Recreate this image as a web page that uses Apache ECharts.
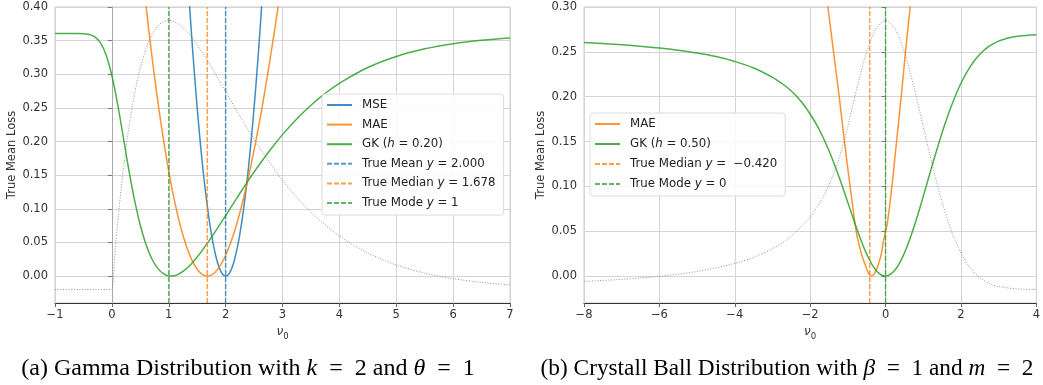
<!DOCTYPE html>
<html>
<head>
<meta charset="utf-8">
<script src="https://cdn.jsdelivr.net/npm/echarts@6/dist/echarts.min.js"></script>
<style>
html,body{margin:0;padding:0;background:#fff;}
#chart{width:1043px;height:385px;}
</style>
</head>
<body>
<div id="chart"></div>
<script>
// ---------- Left panel: Gamma distribution (k=2, theta=1) ----------
const gammaMseX = [1.35,1.4,1.45,1.5,1.55,1.6,1.65,1.7,1.75,1.8,1.85,1.9,1.95,2.0,2.05,2.1,2.15,2.2,2.25,2.3,2.35,2.4,2.45,2.5,2.55,2.6,2.65];
const gammaMseY = [0.4225,0.36,0.3025,0.25,0.2025,0.16,0.1225,0.09,0.0625,0.04,0.0225,0.01,0.0025,0,0.0025,0.01,0.0225,0.04,0.0625,0.09,0.1225,0.16,0.2025,0.25,0.3025,0.36,0.4225];
const gammaMaeX = [0.5,0.6,0.7,0.8,0.9,1.0,1.1,1.2,1.3,1.4,1.5,1.6,1.7,1.8,1.9,2.0,2.1,2.2,2.3,2.4,2.5,2.6,2.7,2.8,2.9,3.0];
const gammaMaeY = [0.4809,0.4021,0.3298,0.2645,0.2064,0.1556,0.1121,0.0759,0.0470,0.0251,0.0102,0.0019,0.0002,0.0046,0.0149,0.0310,0.0524,0.0790,0.1105,0.1466,0.1871,0.2316,0.2800,0.3321,0.3875,0.4462];
const gammaGkX = [-1,-0.8,-0.6,-0.4,-0.3,-0.2,-0.1,0,0.1,0.2,0.3,0.4,0.5,0.6,0.7,0.8,0.9,1.0,1.1,1.2,1.3,1.4,1.5,1.6,1.8,2.0,2.2,2.4,2.6,2.8,3.0,3.25,3.5,3.75,4.0,4.5,5.0,5.5,6.0,6.5,7.0];
const gammaGkY = [0.3606,0.3606,0.3605,0.3591,0.3556,0.3466,0.3284,0.2980,0.2560,0.2069,0.1572,0.1125,0.0755,0.0470,0.0262,0.0122,0.0039,0.0003,0.0006,0.0042,0.0103,0.0185,0.0283,0.0393,0.0638,0.0900,0.1164,0.1422,0.1666,0.1894,0.2103,0.2336,0.2540,0.2716,0.2866,0.3101,0.3265,0.3378,0.3455,0.3507,0.3541];
const gammaPdfX = [-1,-0.5,-0.05,0,0.05,0.1,0.2,0.3,0.4,0.5,0.6,0.7,0.8,0.9,1.0,1.2,1.4,1.6,1.8,2.0,2.25,2.5,2.75,3.0,3.5,4.0,4.5,5.0,5.5,6.0,6.5,7.0];
const gammaPdfY = [-0.02,-0.02,-0.02,-0.02,0.0317,0.0784,0.1580,0.2216,0.2715,0.3097,0.3380,0.3580,0.3708,0.3779,0.3800,0.3730,0.3554,0.3312,0.3035,0.2743,0.2379,0.2031,0.1721,0.1424,0.0949,0.0597,0.0344,0.0166,0.0044,-0.0038,-0.0094,-0.0131];
const gammaRefX = [2.0, 1.678, 1.0];            // mean, median, mode
const gammaXRange = [-1, 7];
const gammaYRange = [-0.04, 0.40];
const gammaYTicks = [0, 0.05, 0.10, 0.15, 0.20, 0.25, 0.30, 0.35, 0.40];
const gammaNames = ['MSE', 'MAE', 'GK (h = 0.20)', 'True Mean y = 2.000', 'True Median y = 1.678', 'True Mode y = 1'];
const gammaLabels = ['MSE', 'MAE', 'GK ({i|h} = 0.20)', 'True Mean {i|y} = 2.000', 'True Median {i|y} = 1.678', 'True Mode {i|y} = 1'];

// ---------- Right panel: Crystal Ball distribution (beta=1, m=2) ----------
const cbMaeX = [-1.68,-1.53,-1.38,-1.23,-1.09,-0.94,-0.78,-0.72,-0.63,-0.536,-0.45,-0.38,-0.30,-0.20,-0.12,-0.06,0.0,0.053,0.168,0.292,0.415,0.529,0.653,0.777];
const cbMaeY = [0.35,0.30,0.25,0.20,0.15,0.10,0.05,0.038,0.0233,0.0122,0.003,0.0,0.0025,0.0122,0.0233,0.038,0.05,0.0606,0.10,0.15,0.20,0.25,0.30,0.35];
const cbGkX = [-8,-7.5,-7,-6.5,-6,-5.5,-5,-4.5,-4,-3.5,-3,-2.75,-2.5,-2.25,-2,-1.75,-1.5,-1.25,-1,-0.75,-0.5,-0.25,0,0.25,0.5,0.75,1,1.25,1.5,1.75,2,2.25,2.5,2.75,3,3.25,3.5,4];
const cbGkY = [0.2603,0.2592,0.2579,0.2562,0.2543,0.2518,0.2487,0.2447,0.2393,0.2320,0.2216,0.2147,0.2064,0.1953,0.1807,0.1626,0.1398,0.1125,0.0819,0.0511,0.0245,0.0063,0.0000,0.0068,0.0258,0.0544,0.0889,0.1253,0.1599,0.1903,0.2150,0.2339,0.2473,0.2563,0.2620,0.2655,0.2674,0.2690];
const cbPdfX = [-8,-7,-6,-5,-4,-3.5,-3,-2.5,-2,-1.75,-1.5,-1.25,-1,-0.75,-0.5,-0.25,0,0.25,0.5,0.75,1,1.25,1.5,1.75,2,2.25,2.5,2.75,3,3.5,4];
const cbPdfY = [-0.0060,-0.0036,-0.0002,0.0052,0.0141,0.0209,0.0305,0.0444,0.0659,0.0812,0.1015,0.1288,0.1670,0.2115,0.2498,0.2758,0.2850,0.2758,0.2498,0.2115,0.1670,0.1224,0.0824,0.0499,0.0256,0.0089,-0.0018,-0.0082,-0.0117,-0.0143,-0.0149];
const cbRefX = [-0.420, 0];                     // median, mode
const cbXRange = [-8, 4];
const cbYRange = [-0.03, 0.30];
const cbYTicks = [0, 0.05, 0.10, 0.15, 0.20, 0.25, 0.30];
const cbNames = ['MAE', 'GK (h = 0.50)', 'True Median y = −0.420', 'True Mode y = 0'];
const cbLabels = ['MAE', 'GK ({i|h} = 0.50)', 'True Median {i|y} =  −0.420', 'True Mode {i|y} = 0'];

const EQ = '\u2002=\u2002';
const captions = [
  '(a) Gamma Distribution with {i|k}' + EQ + '2 and {i|θ}' + EQ + '1',
  '(b) Crystall Ball Distribution with {i|β}' + EQ + '1 and {i|m}' + EQ + '2'
];
const captionCenters = [248, 787];
const captionSizes = [24, 23.3];

// ---------- styling ----------
const C_BLUE = 'rgba(31,119,180,0.85)';
const C_ORANGE = 'rgba(255,127,14,0.85)';
const C_GREEN = 'rgba(44,160,44,0.85)';
const C_BLUE_D = 'rgba(31,119,180,0.75)';
const C_ORANGE_D = 'rgba(255,127,14,0.75)';
const C_GREEN_D = 'rgba(44,160,44,0.75)';
const FONT = 'DejaVu Sans';
const LBL = 11.5;
const LEG = 11.8;

function zip(xs, ys) { return xs.map((x, i) => [x, ys[i]]); }
function minusFmt(v) { return String(v).replace('-', '\u2212'); }

function curve(name, xs, ys, color, gi) {
  return {
    name: name, type: 'line', xAxisIndex: gi, yAxisIndex: gi,
    data: zip(xs, ys), showSymbol: false, symbol: 'none',
    smooth: 0.4, clip: true,
    lineStyle: { color: color, width: 1.5 }, itemStyle: { color: color },
    z: 3
  };
}
function vline(name, x, yr, color, gi) {
  return {
    name: name, type: 'line', xAxisIndex: gi, yAxisIndex: gi,
    data: [[x, yr[0]], [x, yr[1]]], showSymbol: false, symbol: 'none',
    lineStyle: { color: color, width: 1.5, type: [5, 2] }, itemStyle: { color: color },
    z: 4
  };
}
function dotted(xs, ys, gi) {
  return {
    name: 'pdf', type: 'line', xAxisIndex: gi, yAxisIndex: gi,
    data: zip(xs, ys), showSymbol: false, symbol: 'none',
    smooth: 0.3,
    lineStyle: { color: 'rgba(110,110,110,0.75)', width: 1, type: [1, 1.7] },
    z: 2
  };
}
function xAxisDef(gi, range, interval) {
  return {
    gridIndex: gi, type: 'value', min: range[0], max: range[1], interval: interval,
    name: '{i|ν}{n|0}', nameLocation: 'middle', nameGap: 16,
    nameTextStyle: { rich: {
      i: { fontFamily: FONT, fontStyle: 'italic', fontSize: 12, lineHeight: 18, color: '#333' },
      n: { fontFamily: FONT, fontSize: 8.5, lineHeight: 10, verticalAlign: 'bottom', color: '#333' } } },
    axisLine: { show: true, onZero: false, lineStyle: { color: '#333', width: 1.2 } },
    axisTick: { show: true, length: 4, lineStyle: { color: '#666' } },
    axisLabel: { fontFamily: FONT, fontSize: LBL, color: '#333', margin: 6, formatter: minusFmt },
    splitLine: { show: true, lineStyle: { color: '#d4d4d4', width: 1 } }
  };
}
function yAxisDef(gi, range, ticks) {
  return {
    gridIndex: gi, type: 'value', min: range[0], max: range[1],
    name: 'True Mean Loss', nameLocation: 'middle', nameGap: 36,
    nameTextStyle: { fontFamily: FONT, fontSize: LBL, color: '#333' },
    axisLine: { show: true, lineStyle: { color: '#aaa', width: 1 } },
    axisTick: { show: true, length: 4, customValues: ticks, lineStyle: { color: '#777' } },
    axisLabel: { fontFamily: FONT, fontSize: LBL, color: '#333', margin: 7, customValues: ticks, formatter: v => v.toFixed(2) },
    splitLine: { show: true, lineStyle: { color: '#d4d4d4', width: 1 } }
  };
}
function legendDef(names, labels, left, top, gap) {
  const map = {};
  names.forEach((n, i) => { map[n] = labels[i]; });
  return {
    orient: 'vertical', left: left, top: top, data: names, selectedMode: false,
    itemWidth: 25, itemHeight: 12, itemGap: gap,
    padding: [5, 8, 6, 4],
    backgroundColor: 'rgba(255,255,255,0.85)', borderColor: '#dcdcdc', borderWidth: 1, borderRadius: 3,
    itemStyle: { color: 'rgba(0,0,0,0)', borderWidth: 0, opacity: 0 },
    formatter: n => map[n],
    textStyle: { fontFamily: FONT, fontSize: LEG, color: '#222', padding: [0, 0, 0, 5],
      rich: { i: { fontFamily: FONT, fontStyle: 'italic', fontSize: LEG, color: '#222' } } }
  };
}

const gammaColors = [C_BLUE, C_ORANGE, C_GREEN];
const gammaRefColors = [C_BLUE_D, C_ORANGE_D, C_GREEN_D];
const series = [
  dotted(gammaPdfX, gammaPdfY, 0),
  curve(gammaNames[0], gammaMseX, gammaMseY, gammaColors[0], 0),
  curve(gammaNames[1], gammaMaeX, gammaMaeY, gammaColors[1], 0),
  curve(gammaNames[2], gammaGkX, gammaGkY, gammaColors[2], 0),
  vline(gammaNames[3], gammaRefX[0], gammaYRange, gammaRefColors[0], 0),
  vline(gammaNames[4], gammaRefX[1], gammaYRange, gammaRefColors[1], 0),
  vline(gammaNames[5], gammaRefX[2], gammaYRange, gammaRefColors[2], 0),
  dotted(cbPdfX, cbPdfY, 1),
  curve(cbNames[0], cbMaeX, cbMaeY, C_ORANGE, 1),
  curve(cbNames[1], cbGkX, cbGkY, C_GREEN, 1),
  vline(cbNames[2], cbRefX[0], cbYRange, C_ORANGE_D, 1),
  vline(cbNames[3], cbRefX[1], cbYRange, C_GREEN_D, 1)
];

function captionGraphic(text, cx, size) {
  return {
    type: 'text', x: cx, y: 369, silent: true,
    style: {
      text: text, textAlign: 'center', textVerticalAlign: 'middle',
      fontFamily: 'Liberation Serif', fontSize: size, fill: '#000',
      rich: { i: { fontFamily: 'Liberation Serif', fontStyle: 'italic', fontSize: size, fill: '#000' } }
    }
  };
}

const option = {
  animation: false,
  backgroundColor: '#fff',
  graphic: [captionGraphic(captions[0], captionCenters[0], captionSizes[0]),
            captionGraphic(captions[1], captionCenters[1], captionSizes[1])],
  grid: [
    { left: 55, top: 7, width: 455, height: 296, show: true, borderColor: '#ccc', borderWidth: 1, containLabel: false },
    { left: 584, top: 7, width: 454, height: 296, show: true, borderColor: '#ccc', borderWidth: 1, containLabel: false }
  ],
  xAxis: [xAxisDef(0, gammaXRange, 1), xAxisDef(1, cbXRange, 2)],
  yAxis: [yAxisDef(0, gammaYRange, gammaYTicks), yAxisDef(1, cbYRange, cbYTicks)],
  legend: [legendDef(gammaNames, gammaLabels, 322, 94, 7.6), legendDef(cbNames, cbLabels, 590, 113, 8)],
  series: series
};

const chart = echarts.init(document.getElementById('chart'), null, { renderer: 'canvas' });
chart.setOption(option);
</script>
</body>
</html>
